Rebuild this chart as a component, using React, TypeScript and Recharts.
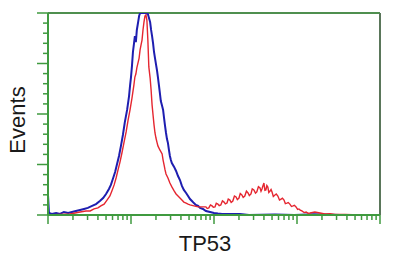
import React from "react";
import { LineChart, Line, XAxis, YAxis, ReferenceLine } from "recharts";

// log-scaled channels (0-1023, 4 decades) and event counts (% of max)
const blueChannels = [
  0, 3, 12, 25, 37, 49, 62, 74, 86, 99, 111, 123, 136, 148, 160, 170, 179, 188, 194, 200,
  207, 213, 219, 225, 231, 237, 244, 250, 253, 256, 259, 262, 265, 268, 271, 274, 278, 281, 284, 290,
  296, 302, 308, 315, 318, 321, 324, 327, 330, 333, 336, 339, 342, 345, 348, 352, 355, 358, 361, 364,
  367, 370, 373, 376, 379, 382, 389, 395, 401, 407, 413, 419, 426, 432, 438, 444, 450, 456, 463, 469,
  478, 487, 500, 512, 524, 537, 549, 561, 592, 620, 700, 760, 820, 900, 1023,
];
const blueCounts = [
  9.9, 1, 0.5, 1, 0.5, 1.5, 1, 1.5, 2, 2.5, 3, 3.5, 4.5, 5.4, 6.9, 8.4, 10.4, 12.9, 14.9, 17.8,
  21.3, 25.2, 29.2, 34.2, 39.6, 46, 52, 58.9, 63.9, 68.3, 73.8, 80.7, 84.6, 88.6, 85.6, 91.6, 95.5, 98.5, 100, 100,
  100, 100, 99.5, 95.5, 91.6, 88.6, 85.1, 80.7, 77.7, 74.7, 71.8, 68.3, 64.4, 60.4, 56.4, 54, 52, 48, 44.1, 40.6,
  37.6, 35.6, 32.2, 29.2, 27.2, 25.7, 23.8, 21.8, 19.3, 17.3, 14.4, 12.4, 10.9, 9.4, 7.9, 6.9, 5.9, 5, 4.5, 3.5,
  3, 2, 1.5, 1, 0.7, 0.5, 0.5, 0.5, 0.5, 0, 0.3, 0, 0.4, 0, 0,
];

const redChannels = [
  0, 37, 68, 99, 117, 130, 142, 154, 163, 173, 182, 191, 197, 204, 210, 216, 222, 228, 234, 241,
  247, 253, 259, 265, 268, 271, 274, 281, 284, 287, 290, 293, 296, 299, 302, 305, 308, 311, 315, 318,
  321, 324, 327, 330, 333, 336, 339, 345, 352, 355, 358, 361, 364, 370, 376, 382, 389, 395, 401, 407,
  413, 419, 426, 432, 438, 450, 463, 475, 487, 491, 496, 501, 506, 510, 515, 519, 524, 528, 533, 538,
  543, 547, 552, 556, 561, 565, 570, 575, 580, 584, 589, 593, 598, 602, 607, 612, 617, 621, 626, 630,
  635, 640, 644, 649, 654, 657, 660, 663, 666, 669, 672, 675, 678, 681, 685, 688, 691, 695, 700, 704,
  709, 714, 719, 723, 728, 732, 737, 741, 746, 751, 756, 760, 765, 770, 774, 778, 783, 790, 796, 802,
  808, 823, 839, 854, 870, 885, 916, 962, 1023,
];
const redCounts = [
  0, 0.25, 0.5, 1.5, 2, 2, 3, 3.5, 4.5, 5.4, 7.4, 9.4, 11.9, 14.9, 18.3, 22.3, 26.2, 30.7, 35.6, 41.1,
  47, 52, 57.9, 64.4, 68.3, 69.8, 72.8, 77.7, 81.7, 84.2, 86.6, 91.6, 95.5, 98.5, 99, 96.5, 86.6, 73.3, 67.8, 61.9,
  54.5, 49.5, 44.6, 40.6, 38.1, 36.1, 34.2, 32.2, 30.2, 27.2, 24.8, 22.3, 20.3, 18.3, 15.8, 13.9, 11.9, 10.4, 9.4, 8.4,
  7.4, 6.4, 5.9, 5.4, 5, 4.5, 4, 4, 4, 3.2, 3.5, 5, 4.5, 3.8, 4, 5.8, 5.4, 4.6, 5, 7,
  6.4, 5.5, 5.9, 7.9, 7.4, 6.2, 6.9, 9.4, 8.9, 7.6, 8.4, 10.6, 9.9, 8.7, 9.4, 11.8, 10.9, 9.6, 10.4, 12.9,
  12.4, 10.8, 11.4, 14, 13.4, 11.8, 12.9, 14.5, 15.8, 12.2, 12.4, 14.6, 13.9, 11.2, 11.9, 12.6, 11.4, 9.2, 9.9, 10.4,
  9.4, 7.4, 7.9, 8.3, 7.4, 5.6, 5.9, 6.2, 5.4, 4.2, 4.5, 4.8, 4, 2.8, 3, 2.4, 2, 1.2, 1.5, 0.9,
  1, 1.5, 1, 0.5, 0.7, 0.25, 0.25, 0, 0,
];

const yTicks = [0, 5, 10, 15, 20, 25, 30, 35, 40, 45, 50, 55, 60, 65, 70, 75, 80, 85, 90, 95, 100];
const decades = [0, 1, 2, 3, 4];
const minorSteps = [2, 3, 4, 5, 6, 7, 8, 9];
const channelsPerDecade = 256;

const xTicks: number[] = [];
decades.forEach((d) => {
  xTicks.push(d * channelsPerDecade);
  if (d < decades.length - 1) {
    minorSteps.forEach((m) => xTicks.push(Math.round((d + Math.log10(m)) * channelsPerDecade)));
  }
});
const majorX = decades.map((d) => d * channelsPerDecade);

const blueData = blueChannels.map((ch, i) => ({ ch, count: blueCounts[i] }));
const redData = redChannels.map((ch, i) => ({ ch, count: redCounts[i] }));

const axisGreen = "#3f9a3f";
const font = "'Liberation Sans', Arial, sans-serif";

const YTick = (props: any) => {
  const { x, y, payload } = props;
  const len = payload.value % 25 === 0 ? 11 : 5;
  return <line x1={x - len} y1={y} x2={x} y2={y} stroke={axisGreen} strokeWidth={1.5} />;
};

const XTick = (props: any) => {
  const { x, y, payload } = props;
  const len = majorX.includes(payload.value) ? 9 : 5;
  return <line x1={x} y1={y} x2={x} y2={y + len} stroke={axisGreen} strokeWidth={1.5} />;
};

const EventsLabel = () => (
  <text
    x={25}
    y={120}
    transform="rotate(-90, 25, 120)"
    textAnchor="middle"
    fontFamily={font}
    fontSize={22}
    fill="#1a1a1a"
  >
    Events
  </text>
);

const MarkerLabel = () => (
  <text x={205} y={251} textAnchor="middle" fontFamily={font} fontSize={22} fill="#1a1a1a">
    TP53
  </text>
);

export default function App() {
  return (
    <div style={{ position: "absolute", left: 0, top: 0, background: "#fff" }}>
      <LineChart width={400} height={266} margin={{ top: 13, right: 20, left: 0, bottom: 0 }}>
        <XAxis
          type="number"
          dataKey="ch"
          domain={[0, 1024]}
          ticks={xTicks}
          interval={0}
          allowDataOverflow
          height={51}
          tickSize={0}
          tickMargin={0}
          tickLine={false}
          tick={<XTick />}
          axisLine={{ stroke: axisGreen, strokeWidth: 2 }}
          label={<MarkerLabel />}
        />
        <YAxis
          type="number"
          dataKey="count"
          domain={[0, 100]}
          ticks={yTicks}
          interval={0}
          allowDataOverflow
          width={48}
          tickSize={0}
          tickMargin={0}
          tickLine={false}
          tick={<YTick />}
          axisLine={{ stroke: axisGreen, strokeWidth: 2 }}
          label={<EventsLabel />}
        />
        <ReferenceLine y={100} stroke="#4f8f4f" strokeWidth={2} />
        <ReferenceLine x={1024} stroke="#5a765a" strokeWidth={2} />
        <Line
          data={blueData}
          dataKey="count"
          type="linear"
          stroke="#1e1eb0"
          strokeWidth={2}
          dot={false}
          isAnimationActive={false}
        />
        <Line
          data={redData}
          dataKey="count"
          type="linear"
          stroke="#e52630"
          strokeWidth={1.4}
          dot={false}
          isAnimationActive={false}
        />
      </LineChart>
    </div>
  );
}
